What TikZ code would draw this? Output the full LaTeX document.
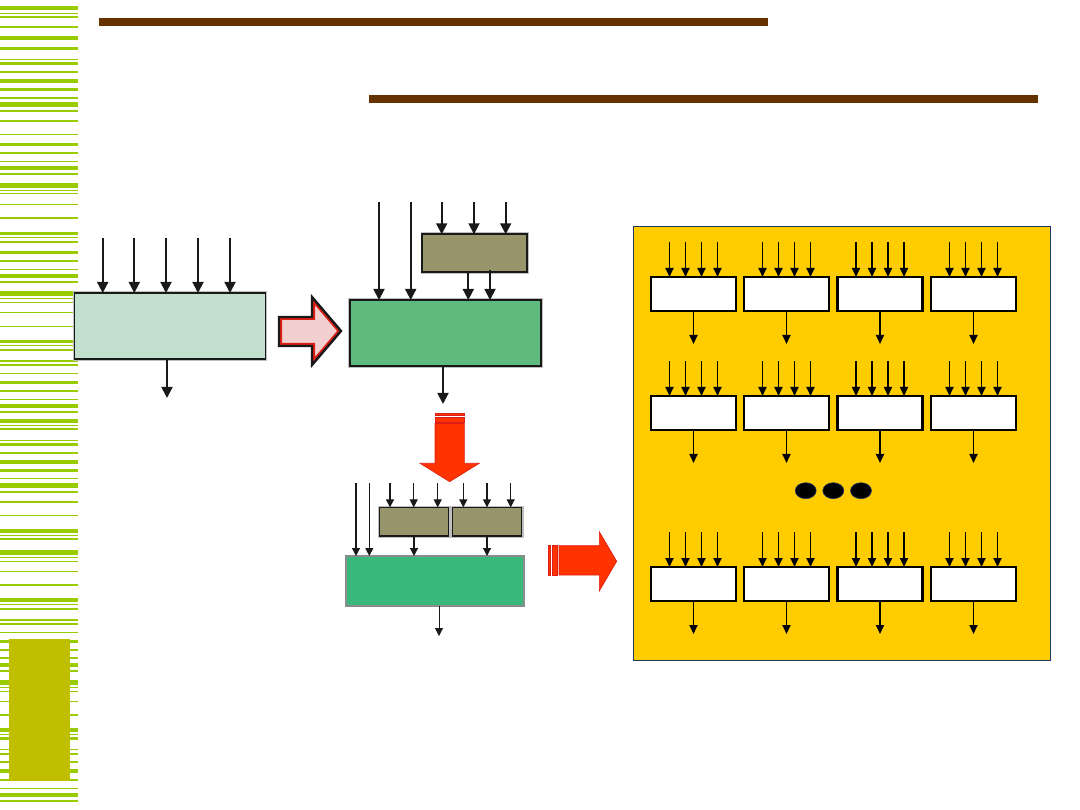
\documentclass[tikz,border=0pt]{standalone}
\usetikzlibrary{arrows.meta}
\definecolor{stripeGreen}{RGB}{153,204,0}
\definecolor{barBrown}{RGB}{102,51,0}
\definecolor{tabOlive}{RGB}{191,191,0}
\definecolor{mintFill}{RGB}{195,224,206}
\definecolor{midGreen}{RGB}{95,186,125}
\definecolor{deepGreen}{RGB}{55,185,125}
\definecolor{tanFill}{RGB}{152,148,108}
\definecolor{pinkFill}{RGB}{242,208,208}
\definecolor{arrowRed}{RGB}{255,51,0}
\definecolor{edgeRed}{RGB}{220,30,20}
\definecolor{panelYellow}{RGB}{255,204,0}
\definecolor{panelEdge}{RGB}{31,56,100}

\tikzset{
  blk/.style={draw=black!90, line width=1.8pt, inner sep=0pt, outer sep=0pt,
    preaction={draw=black!25, line width=3.6pt}},
  cell/.style={draw=black, line width=2.4pt, fill=white, minimum width=85pt,
    minimum height=34pt, inner sep=0pt, outer sep=0pt},
  feed/.style={-{Triangle[length=11pt,width=11pt]}, line width=1.8pt, black!90},
  thinfeed/.style={-{Triangle[length=8pt,width=8pt]}, line width=1.2pt, black!90},
  cellfeed/.style={-{Triangle[length=9pt,width=8pt]}, line width=1.9pt, black},
  redarrow/.style={fill=arrowRed, draw=edgeRed, line width=0.6pt},
}
\newcommand{\pinkshape}{(279,317) -- (312,317) -- (312,297) -- (341,331) -- (312,365) -- (312,346) -- (279,346) -- cycle}

\begin{document}
\begin{tikzpicture}[x=1pt, y=-1pt]
  \useasboundingbox (0,0) rectangle (1080,810);

  % side stripes
  \foreach \y/\h in {6/4, 13/1.2, 16/2, 26/2, 36/4, 47/3, 59/1.2, 62/3, 71/2, 79/4,
      88/3, 97/2, 102/5, 110/2, 120/2, 134/1.2, 143/3, 152/2, 161/1.2, 166/4,
      173/2, 183/5, 190/1.2, 193/1.5, 204/1.2, 217/2, 232/3, 237/1.2, 241/2,
      251/3, 260/2, 269/1.2, 274/4, 281/2, 291/5, 298/1.2, 302/1.2, 312/1.2,
      326/1.2, 340/3, 345/1.2, 349/2, 360/2, 364/2, 373/1.2, 381/3, 390/2,
      399/1.2, 404/4, 411/2, 419/4, 425/1.2, 428/2, 440/1.2, 443/3, 452/2,
      460/4, 469/3, 478/1.2, 483/5, 491/2, 501/2, 515/1.2, 529/4, 535/1.2,
      538/2, 550/5, 557/1.2, 561/1.2, 571/1.2, 584/2, 598/4, 604/1.2, 608/2,
      619/2, 623/2, 632/1.2, 640/3, 649/2, 657/2, 663/4, 670/2, 680/5, 687/1.2,
      691/1.2, 701/1.2, 714/2, 728/4, 734/1.2, 737/3, 749/1.2, 753/2, 761/2,
      769/4, 779/2, 788/1.2, 793/4, 800/2}
    \fill[stripeGreen] (0,\y) rectangle (78,\y+\h);
  \fill[tabOlive] (9,639) rectangle (70,781);

  % title rules
  \fill[barBrown] (99,18) rectangle (768,26);
  \fill[barBrown] (369,95) rectangle (1038,103);

  % single block
  \node[blk, fill=mintFill, minimum width=191pt, minimum height=66pt] (base) at (170,326) {};
  \foreach \x [count=\i] in {102.7,134.3,166,198,230} {
    \coordinate (bin\i) at (\x,238);
    \draw[feed] (bin\i) -- (bin\i |- base.north);
  }
  \coordinate (bout) at (167,398);
  \draw[feed] (bout |- base.south) -- (bout);

  % pink step arrow
  \fill[pinkFill] \pinkshape;
  \begin{scope}
    \clip \pinkshape;
    \draw[edgeRed, line width=6pt, line join=miter] \pinkshape;
  \end{scope}
  \draw[black!90, line width=2.4pt, line join=miter] \pinkshape;

  % split block
  \node[blk, fill=midGreen, minimum width=191pt, minimum height=66pt] (main) at (445.5,333) {};
  \node[blk, fill=tanFill, minimum width=105pt, minimum height=38pt] (pre) at (474.8,253.3) {};
  \foreach \x [count=\i] in {379,410.7} {
    \coordinate (min\i) at (\x,202);
    \draw[feed] (min\i) -- (min\i |- main.north);
  }
  \foreach \x [count=\i] in {441.7,474,505.7} {
    \coordinate (pin\i) at (\x,202);
    \draw[feed] (pin\i) -- (pin\i |- pre.north);
  }
  \coordinate (pout1) at (468.3,300);
  \coordinate (pout2) at (490,270);
  \draw[feed] (pout1 |- pre.south) -- (pout1);
  \draw[feed] (pout2) -- (pout2 |- main.north);
  \coordinate (mout) at (443,404);
  \draw[feed] (mout |- main.south) -- (mout);

  % down arrow
  \fill[redarrow] (435,413.3) rectangle (464.3,415.7);
  \fill[redarrow] (435,417.5) rectangle (464.3,422);
  \filldraw[redarrow] (435,423.5) -- (464.3,423.5) -- (464.3,463.3) -- (479.3,463.3)
    -- (449.6,481.7) -- (420,463.3) -- (435,463.3) -- cycle;

  % two-stage block
  \node[draw=black!45, line width=1.2pt, fill=deepGreen, inner sep=0pt, outer sep=0pt,
    minimum width=178pt, minimum height=50pt] (low) at (435,581) {};
  \node[blk, line width=1.4pt, fill=tanFill, minimum width=69.4pt, minimum height=28.7pt] (preA) at (414,521.7) {};
  \node[blk, line width=1.4pt, fill=tanFill, minimum width=69.4pt, minimum height=28.7pt] (preB) at (487,521.7) {};
  \foreach \x [count=\i] in {356,369.3} {
    \coordinate (lin\i) at (\x,483);
    \draw[thinfeed] (lin\i) -- (lin\i |- low.north);
  }
  \foreach \x [count=\i] in {390,413.7,437.7} {
    \coordinate (ain\i) at (\x,483);
    \draw[thinfeed] (ain\i) -- (ain\i |- preA.north);
  }
  \foreach \x [count=\i] in {463.3,487,510.7} {
    \coordinate (bin\i) at (\x,483);
    \draw[thinfeed] (bin\i) -- (bin\i |- preB.north);
  }
  \draw[thinfeed] (preA.south) -- (preA.south |- low.north);
  \draw[thinfeed] (preB.south) -- (preB.south |- low.north);
  \coordinate (lout) at (439,636);
  \draw[thinfeed, line width=0.8pt] (lout |- low.south) -- (lout);

  % right arrow
  \fill[redarrow] (548.3,545.7) rectangle (550.7,575);
  \fill[redarrow] (552.3,545.7) rectangle (557.3,575);
  \filldraw[redarrow] (559,545.7) -- (599.3,545.7) -- (599.3,531.7) -- (616.7,561.3)
    -- (599.3,591) -- (599.3,575) -- (559,575) -- cycle;

  % panel of cells
  \node[draw=panelEdge, line width=0.8pt, fill=panelYellow, inner sep=0pt,
    minimum width=417pt, minimum height=434pt] (panel) at (841.5,443) {};
  \foreach \r/\y in {1/294,2/413,3/584}
    \foreach \c/\x in {1/693.5,2/786.5,3/880,4/973.5} {
      \node[cell] (c\r\c) at (\x,\y) {};
      \foreach \d in {-24,-8,8,24}
        \draw[cellfeed] ([xshift=\d pt, yshift=35pt]c\r\c.north) -- ([xshift=\d pt]c\r\c.north);
      \draw[cellfeed] (c\r\c.south) -- ++(0,33);
    }
  \foreach \x in {805.7,833.3,861}
    \filldraw[fill=black, draw=panelEdge, line width=0.6pt] (\x,490.7) ellipse (10.5 and 8);
\end{tikzpicture}
\end{document}
